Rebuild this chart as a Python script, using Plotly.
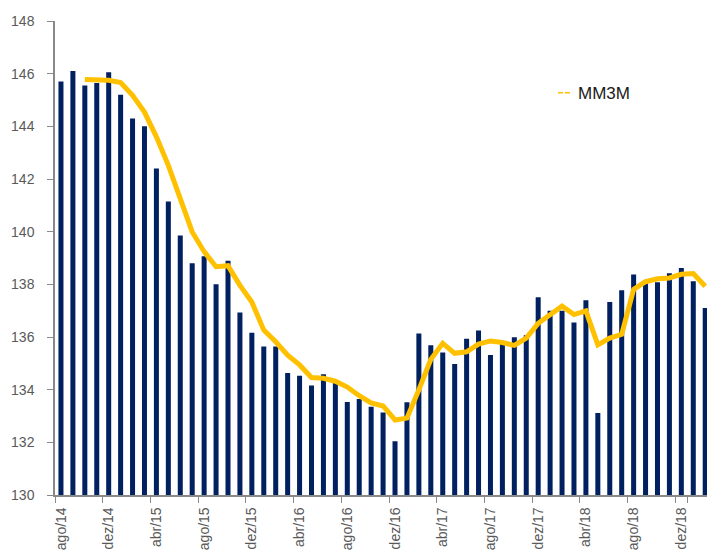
import plotly.graph_objects as go

months = ["jan", "fev", "mar", "abr", "mai", "jun", "jul", "ago", "set", "out", "nov", "dez"]
categories = []
for yr in range(14, 20):
    for m in months:
        categories.append(f"{m}/{yr}")
categories = categories[categories.index("ago/14"):categories.index("fev/19") + 1]

index_values = [
    145.7, 146.1, 145.55, 145.65, 146.05, 145.2, 144.3, 144.0, 142.4, 141.15,
    139.85, 138.8, 139.07, 138.0, 138.9, 136.93, 136.16, 135.64, 135.64, 134.63,
    134.53, 134.16, 134.59, 134.25, 133.53, 133.65, 133.35, 133.13, 132.04, 133.52,
    136.13, 135.69, 135.41, 134.97, 135.93, 136.25, 135.32, 135.8, 135.99, 136.07,
    137.51, 137.0, 137.0, 136.55, 137.4, 133.11, 137.33, 137.78, 138.37, 138.15,
    138.08, 138.42, 138.62, 138.12, 137.1,
]

mm3m_values = [
    145.78, 145.77, 145.75, 145.66, 145.18, 144.54, 143.6, 142.52, 141.32, 139.99,
    139.24, 138.67, 138.71, 137.96, 137.33, 136.26, 135.82, 135.31, 134.94, 134.46,
    134.43, 134.32, 134.1, 133.77, 133.5, 133.38, 132.85, 132.92, 134.0, 135.15,
    135.76, 135.38, 135.44, 135.73, 135.85, 135.79, 135.68, 135.96, 136.52, 136.85,
    137.17, 136.85, 136.99, 135.7, 135.96, 136.1, 137.81, 138.1, 138.21, 138.24,
    138.38, 138.41, 137.93,
]
mm3m_categories = categories[2:]

tick_labels = categories[::4]

W, H = 707, 551
ML, MT, MR = 55, 20.5, 0
PW, PH = W - ML - MR, 475
MB = H - MT - PH

fig = go.Figure()
fig.add_trace(go.Bar(
    x=categories, y=index_values,
    marker=dict(color="#002060", line=dict(width=0)),
    width=0.42, showlegend=False, hoverinfo="skip",
))
fig.add_trace(go.Scatter(
    x=mm3m_categories, y=mm3m_values, mode="lines",
    line=dict(color="#FFC000", width=5), name="MM3M", showlegend=False,
))

fig.update_layout(
    width=W, height=H,
    margin=dict(l=ML, r=MR, t=MT, b=MB, pad=0),
    paper_bgcolor="white", plot_bgcolor="white",
    font=dict(family="Liberation Sans, Arial, sans-serif", color="#595959"),
    xaxis=dict(
        type="category", categoryorder="array", categoryarray=categories,
        range=[-0.5, 54.15],
        tickmode="array", tickvals=tick_labels, ticktext=tick_labels,
        tickson="boundaries", ticks="outside", ticklen=6, tickcolor="#898989",
        tickangle=-90, tickfont=dict(size=14, color="#595959"),
        ticklabelstandoff=5,
        showline=True, linecolor="#898989", linewidth=1.5,
        showgrid=False, zeroline=False, automargin=False,
    ),
    yaxis=dict(
        range=[130, 148], tickmode="linear", tick0=130, dtick=2,
        ticks="outside", ticklen=6, tickcolor="#898989",
        tickfont=dict(size=14, color="#595959"),
        ticklabelstandoff=10,
        showline=True, linecolor="#898989", linewidth=1.5,
        showgrid=False, zeroline=False, automargin=False,
    ),
    shapes=[dict(
        type="line", xref="paper", yref="paper",
        x0=(558 - 55) / PW, x1=(570 - 55) / PW,
        y0=(495.5 - 92.5) / PH, y1=(495.5 - 92.5) / PH,
        line=dict(color="#FFC000", width=1.5, dash="5px,2px"),
    )],
    annotations=[dict(
        text="MM3M", xref="paper", yref="paper",
        x=(576 - 55) / PW, y=(495.5 - 93) / PH,
        xanchor="left", yanchor="middle", showarrow=False,
        font=dict(size=17, color="#1a1a1a", family="Liberation Sans, Arial, sans-serif"),
    )],
)

fig.write_html(
    "out.html",
    config={"displayModeBar": False},
    post_script="document.body.style.margin='0';document.body.style.overflow='hidden';",
)
